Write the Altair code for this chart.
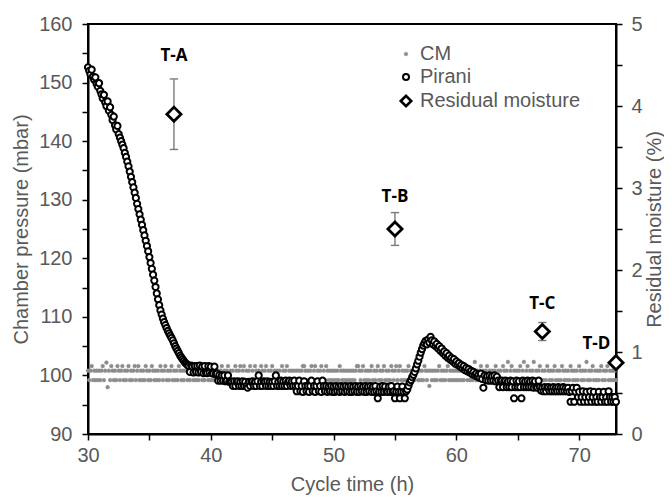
import altair as alt
import pandas as pd

# ---------------- data ----------------
T_START = 30.0   # h, first sample
T_STEP = 0.1     # h, sampling interval

pirani_mbar = [
    152.6, 152.0, 151.4, 152.2, 151.0, 150.5, 150.9, 149.8, 149.3, 149.9,
    148.6, 148.0, 147.3, 147.9, 146.6, 146.0, 146.8, 145.2, 145.8, 144.5,
    143.6, 144.2, 142.7, 142.0, 142.6, 141.2, 140.6, 140.0, 139.4, 138.8,
    138.0, 137.3, 136.5, 135.7, 134.8, 133.9, 133.0, 132.1, 131.2, 130.3,
    129.3, 128.4, 127.5, 126.6, 125.7, 124.8, 123.9, 123.0, 122.1, 121.2,
    120.2, 119.2, 118.2, 117.2, 116.2, 115.1, 114.0, 113.0, 112.0, 111.1,
    110.4, 109.7, 109.1, 108.6, 108.1, 107.6, 107.2, 106.8, 106.4, 106.0,
    105.5, 105.0, 104.6, 104.2, 103.8, 103.4, 103.1, 102.8, 102.5, 102.2,
    102.0, 101.8, 101.6, 100.6, 101.7, 101.5, 100.5, 101.6, 100.6, 101.6,
    100.5, 101.7, 100.6, 101.5, 100.4, 101.6, 100.5, 100.4, 101.6, 100.5,
    101.5, 100.4, 100.3, 101.5, 100.2, 100.3, 99.1, 100.1, 99.1, 100.0,
    99.1, 100.0, 99.0, 99.1, 100.0, 98.9, 99.0, 98.9, 98.2, 99.0,
    98.2, 98.9, 99.0, 98.2, 98.9, 98.2, 99.0, 98.2, 98.9, 98.2,
    97.9, 98.9, 98.2, 98.9, 99.0, 98.2, 98.9, 98.2, 99.0, 100.0,
    98.2, 98.9, 98.2, 99.0, 98.9, 98.2, 99.0, 98.2, 98.9, 98.2,
    98.9, 98.2, 99.0, 100.0, 98.2, 98.9, 98.2, 99.1, 98.2, 99.0,
    98.2, 99.1, 98.2, 98.9, 99.1, 98.2, 99.0, 98.2, 99.1, 98.2,
    97.3, 98.2, 99.1, 97.3, 98.2, 97.2, 99.0, 98.2, 97.3, 98.2,
    97.2, 98.2, 99.1, 97.3, 98.2, 97.2, 98.2, 99.0, 97.3, 98.2,
    97.2, 99.1, 98.2, 97.3, 98.2, 97.2, 98.1, 97.3, 98.2, 97.2,
    98.1, 97.2, 98.2, 97.3, 98.1, 97.2, 98.2, 97.3, 98.1, 97.2,
    98.2, 97.3, 98.1, 97.2, 98.2, 97.2, 98.1, 97.3, 98.2, 97.2,
    98.1, 97.2, 98.2, 97.3, 98.1, 97.2, 98.2, 97.2, 98.1, 97.3,
    98.2, 97.2, 98.1, 97.2, 98.2, 97.3, 96.1, 97.2, 98.1, 97.2,
    98.2, 97.2, 98.1, 97.3, 97.2, 98.1, 97.2, 98.2, 97.2, 97.3,
    96.1, 97.2, 98.1, 97.2, 96.1, 97.2, 98.1, 97.2, 96.1, 97.3,
    97.6, 98.2, 98.8, 99.2, 99.7, 100.1, 100.6, 101.2, 101.9, 102.5,
    103.2, 103.9, 104.5, 105.1, 105.5, 105.9, 105.3, 106.1, 105.6, 106.6,
    106.0, 105.3, 105.8, 105.0, 105.4, 104.6, 105.0, 104.2, 104.6, 103.8,
    104.1, 103.4, 103.8, 103.0, 103.4, 102.7, 103.0, 102.4, 102.8, 102.0,
    102.4, 101.8, 102.1, 101.5, 101.8, 101.2, 101.6, 100.9, 101.3, 100.7,
    101.1, 100.5, 100.8, 100.2, 100.6, 100.0, 100.3, 99.8, 100.1, 99.6,
    100.3, 99.4, 97.9, 100.0, 99.2, 99.9, 99.1, 100.0, 99.1, 99.9,
    99.1, 100.0, 99.0, 99.8, 99.1, 98.0, 99.0, 99.1, 98.0, 99.0,
    99.1, 98.0, 99.0, 98.0, 99.1, 98.0, 99.0, 96.1, 98.0, 99.1,
    98.0, 99.0, 98.0, 96.1, 99.1, 98.0, 99.0, 98.0, 99.1, 98.0,
    99.0, 98.0, 99.1, 97.9, 99.0, 98.0, 97.9, 99.1, 98.0, 97.4,
    97.9, 97.3, 98.0, 97.3, 97.9, 98.0, 97.3, 97.9, 97.3, 98.0,
    97.3, 97.9, 97.3, 98.0, 97.3, 97.9, 97.3, 98.0, 97.3, 97.9,
    97.3, 97.9, 97.2, 95.5, 97.3, 97.9, 95.5, 97.2, 97.9, 96.3,
    97.2, 95.5, 96.3, 97.3, 95.5, 96.3, 97.2, 95.5, 96.3, 97.3,
    95.5, 96.3, 97.2, 95.5, 96.3, 95.5, 97.2, 96.3, 95.5, 96.3,
    97.2, 95.5, 96.3, 95.5, 97.3, 96.3, 95.5, 96.3, 95.5, 96.3,
    95.5,
]

cm_mbar = [
    100.8, 99.2, 100.8, 101.6, 99.2, 100.8, 99.2, 100.8, 99.2, 100.8,
    99.2, 100.8, 101.6, 99.2, 100.8, 102.2, 98.0, 100.8, 99.2, 101.6,
    100.8, 99.2, 100.8, 99.2, 101.6, 100.8, 99.2, 100.8, 101.6, 99.2,
    100.8, 99.2, 100.8, 101.6, 99.2, 100.8, 99.2, 100.8, 101.6, 99.2,
    100.8, 101.6, 99.2, 100.8, 99.2, 100.8, 99.2, 101.6, 100.8, 99.2,
    100.8, 99.2, 101.6, 100.8, 99.2, 100.8, 99.2, 100.8, 99.2, 101.6,
    100.8, 99.2, 100.8, 101.6, 99.2, 100.8, 99.2, 100.8, 101.6, 99.2,
    100.8, 99.2, 100.8, 99.2, 101.6, 100.8, 99.2, 100.8, 99.2, 100.8,
    101.6, 99.2, 100.8, 99.2, 100.8, 101.6, 99.2, 100.8, 99.2, 100.8,
    99.2, 100.8, 101.6, 99.2, 100.8, 99.2, 100.8, 101.6, 99.2, 100.8,
    99.2, 100.8, 99.2, 101.6, 100.8, 99.2, 100.8, 99.2, 100.8, 101.6,
    99.2, 100.8, 99.2, 100.8, 101.6, 99.2, 100.8, 99.2, 100.8, 99.2,
    101.6, 100.8, 99.2, 100.8, 101.6, 99.2, 100.8, 101.6, 99.2, 100.8,
    99.2, 100.8, 101.6, 99.2, 100.8, 99.2, 101.6, 100.8, 99.2, 100.8,
    99.2, 101.6, 100.8, 99.2, 100.8, 101.6, 99.2, 100.8, 99.2, 100.8,
    101.6, 99.2, 100.8, 99.2, 100.8, 99.2, 100.8, 99.2, 101.6, 100.8,
    99.2, 100.8, 101.6, 99.2, 100.8, 99.2, 100.8, 99.2, 100.8, 99.2,
    100.8, 99.2, 100.8, 99.2, 100.8, 101.6, 101.6, 100.8, 99.2, 100.8,
    99.2, 100.8, 101.6, 99.2, 100.8, 101.6, 99.2, 100.8, 99.2, 100.8,
    101.6, 99.2, 100.8, 99.2, 101.6, 100.8, 99.2, 100.8, 99.2, 100.8,
    99.2, 100.8, 99.2, 100.8, 99.2, 101.6, 100.8, 99.2, 100.8, 99.2,
    100.8, 99.2, 100.8, 99.2, 100.8, 99.2, 100.8, 99.2, 100.8, 101.6,
    101.6, 100.8, 99.2, 100.8, 101.6, 99.2, 100.8, 99.2, 100.8, 99.2,
    100.8, 101.6, 99.2, 100.8, 99.2, 100.8, 101.6, 99.2, 100.8, 99.2,
    100.8, 101.6, 99.2, 100.8, 99.2, 100.8, 99.2, 101.6, 100.8, 99.2,
    100.8, 101.6, 99.2, 100.8, 101.6, 99.2, 100.8, 99.2, 100.8, 99.2,
    100.8, 101.6, 99.2, 100.8, 99.2, 100.8, 99.2, 101.6, 100.8, 99.2,
    100.8, 99.2, 100.8, 99.2, 101.6, 100.8, 99.2, 100.8, 98.2, 100.8,
    99.2, 100.8, 99.2, 100.8, 99.2, 100.8, 101.6, 99.2, 100.8, 99.2,
    100.8, 99.2, 100.8, 101.6, 99.2, 100.8, 99.2, 100.8, 99.2, 100.8,
    99.2, 100.8, 99.2, 100.8, 99.2, 100.8, 99.2, 101.6, 100.8, 99.2,
    100.8, 99.2, 100.8, 99.2, 100.8, 102.3, 99.2, 100.8, 99.2, 100.8,
    101.6, 99.2, 100.8, 99.2, 100.8, 101.6, 99.2, 100.8, 99.2, 100.8,
    99.2, 100.8, 101.6, 99.2, 100.8, 99.2, 100.8, 99.2, 101.6, 100.8,
    99.2, 100.8, 102.3, 99.2, 100.8, 101.6, 99.2, 100.8, 99.2, 100.8,
    99.2, 100.8, 101.6, 99.2, 100.8, 102.3, 99.2, 100.8, 101.6, 99.2,
    100.8, 99.2, 100.8, 102.3, 99.2, 100.8, 99.2, 100.8, 101.6, 99.2,
    100.8, 99.2, 100.8, 99.2, 101.6, 100.8, 99.2, 100.8, 99.2, 100.8,
    101.6, 99.2, 100.8, 99.2, 100.8, 99.2, 101.6, 100.8, 99.2, 100.8,
    99.2, 100.8, 99.2, 101.6, 100.8, 99.2, 100.8, 99.2, 100.8, 99.2,
    101.6, 100.8, 99.2, 100.8, 99.2, 100.8, 102.3, 99.2, 100.8, 99.2,
    100.8, 101.6, 99.2, 100.8, 99.2, 100.8, 99.2, 100.8, 101.6, 99.2,
    100.8, 99.2, 100.8, 101.6, 99.2, 100.8, 99.2, 100.8, 99.2, 100.8,
    99.2,
]

rm_time_h = [37, 55, 67, 73]
rm_pct = [3.90, 2.50, 1.25, 0.87]
rm_err_pct = [0.43, 0.20, 0.11, 0.03]
rm_labels = ["T-A", "T-B", "T-C", "T-D"]
rm_label_time_h = [37, 55, 67, 71.4]
rm_label_pct = [4.61, 2.89, 1.58, 1.10]

series_names = ["CM", "Pirani", "Residual moisture"]

x_ticks = [30, 35, 40, 45, 50, 55, 60, 65, 70]
left_ticks = [90, 95, 100, 105, 110, 115, 120, 125, 130, 135, 140, 145, 150, 155, 160]
right_ticks = [0, 0.5, 1, 1.5, 2, 2.5, 3, 3.5, 4, 4.5, 5]

# ---------------- frames ----------------
df_p = pd.DataFrame({
    "time": [round(T_START + i * T_STEP, 1) for i in range(len(pirani_mbar))],
    "value": pirani_mbar,
    "series": "Pirani",
})
df_c = pd.DataFrame({
    "time": [round(T_START + i * T_STEP, 1) for i in range(len(cm_mbar))],
    "value": cm_mbar,
    "series": "CM",
})
df_rm = pd.DataFrame({
    "time": rm_time_h,
    "pct": rm_pct,
    "lo": [v - e for v, e in zip(rm_pct, rm_err_pct)],
    "hi": [v + e for v, e in zip(rm_pct, rm_err_pct)],
    "label": rm_labels,
    "label_time": rm_label_time_h,
    "label_pct": rm_label_pct,
    "series": "Residual moisture",
})

# ---------------- styling ----------------
TXT = "#595959"
BAR = "#7a7a7a"
FONT = "Liberation Sans"

x_axis = alt.Axis(title="Cycle time (h)", values=x_ticks,
                  labelExpr="datum.value % 10 == 0 ? datum.label : ''",
                  labelPadding=5, titlePadding=9, labelFlush=False)
x_scale = alt.Scale(domain=[30, 73], nice=False, zero=False)

left_axis = alt.Axis(title="Chamber pressure (mbar)", values=left_ticks, orient="left",
                     labelExpr="datum.value % 10 == 0 ? datum.label : ''",
                     labelPadding=10, titlePadding=7, labelFlush=False)
left_scale = alt.Scale(domain=[90, 160], nice=False, zero=False)

right_axis = alt.Axis(title="Residual moisture (%)", values=right_ticks, orient="right",
                      labelExpr="datum.value % 1 == 0 ? format(datum.value, 'd') : ''",
                      labelPadding=9, titlePadding=2, titleAngle=270, titleBaseline="top",
                      labelFlush=False)
right_scale = alt.Scale(domain=[0, 5], nice=False, zero=False)

legend = alt.Legend(
    title=None, orient="none", legendX=308, legendY=20,
    labelFontSize=20, labelColor=TXT, labelFont=FONT, labelLimit=400,
    rowPadding=3, labelOffset=4, padding=0,
    symbolSize=alt.ExprRef(expr="datum.value === 'CM' ? 14 : datum.value === 'Pirani' ? 36 : 110"),
    symbolStrokeWidth=alt.ExprRef(expr="datum.value === 'CM' ? 0.5 : datum.value === 'Pirani' ? 2 : 2.6"),
)


def series_channels():
    return dict(
        shape=alt.Shape("series:N", scale=alt.Scale(domain=series_names, range=["circle", "circle", "diamond"]), legend=legend),
        fill=alt.Fill("series:N", scale=alt.Scale(domain=series_names, range=["#8c8c8c", "white", "white"]), legend=legend),
        stroke=alt.Stroke("series:N", scale=alt.Scale(domain=series_names, range=["#8c8c8c", "black", "black"]), legend=legend),
    )


X = alt.X("time:Q", scale=x_scale, axis=x_axis)

cm_layer = alt.Chart(df_c).mark_point(opacity=1, size=14, strokeWidth=0.5).encode(
    x=X, y=alt.Y("value:Q", scale=left_scale, axis=left_axis), **series_channels()
)
pirani_layer = alt.Chart(df_p).mark_point(opacity=1, size=38, strokeWidth=2).encode(
    x=X, y=alt.Y("value:Q", scale=left_scale, axis=left_axis), **series_channels()
)
left = alt.layer(cm_layer, pirani_layer)

err_rule = alt.Chart(df_rm).mark_rule(color=BAR, strokeWidth=1.4).encode(
    x=X, y=alt.Y("lo:Q", scale=right_scale, axis=right_axis), y2="hi:Q"
)
cap_lo = alt.Chart(df_rm).mark_point(shape="stroke", size=70, color=BAR, strokeWidth=1.4,
                                     opacity=1, filled=False).encode(
    x=X, y=alt.Y("lo:Q", scale=right_scale, axis=right_axis)
)
cap_hi = alt.Chart(df_rm).mark_point(shape="stroke", size=70, color=BAR, strokeWidth=1.4,
                                     opacity=1, filled=False).encode(
    x=X, y=alt.Y("hi:Q", scale=right_scale, axis=right_axis)
)
diamonds = alt.Chart(df_rm).mark_point(opacity=1, size=200, strokeWidth=2.8).encode(
    x=X, y=alt.Y("pct:Q", scale=right_scale, axis=right_axis), **series_channels()
)
labels = alt.Chart(df_rm).mark_text(font="Open Sans", fontWeight="bold", fontSize=17,
                                    color="black", baseline="middle", align="center").encode(
    x=alt.X("label_time:Q", scale=x_scale, axis=x_axis),
    y=alt.Y("label_pct:Q", scale=right_scale, axis=right_axis),
    text="label:N",
)
right = alt.layer(err_rule, cap_lo, cap_hi, diamonds, labels)

chart = alt.layer(left, right).resolve_scale(y="independent").properties(
    width=528, height=410,
    autosize=alt.AutoSizeParams(type="none"),
    padding={"left": 80, "top": 16, "right": 48, "bottom": 64},
).configure_axis(
    domainColor="black", domainWidth=2, tickColor="black", tickWidth=1.5, tickSize=6,
    labelColor=TXT, labelFontSize=20, labelFont=FONT,
    titleColor=TXT, titleFontSize=20, titleFont=FONT, titleFontWeight="normal",
    grid=False,
).configure_view(stroke="black", strokeWidth=2)

chart.save("out.html", embed_options={"renderer": "svg", "actions": False})
